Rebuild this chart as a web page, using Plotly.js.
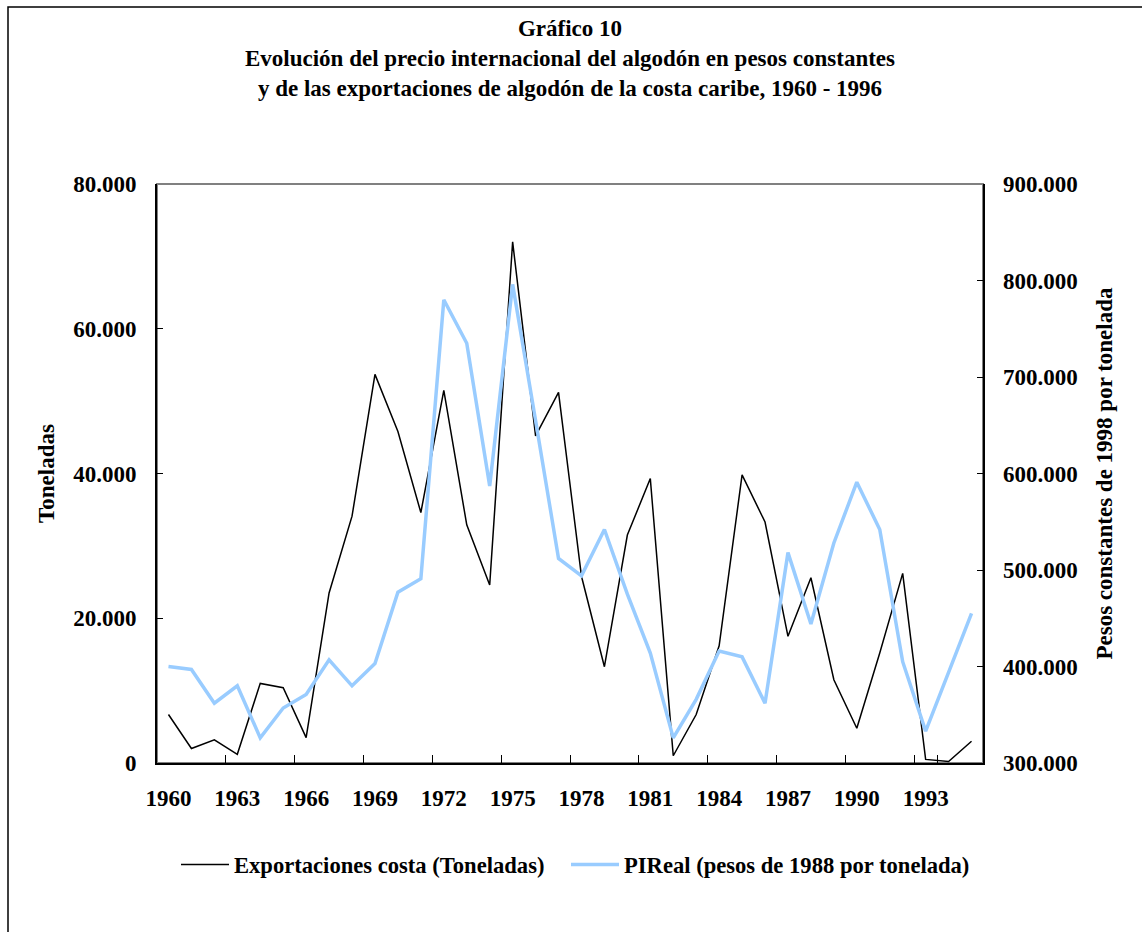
<!DOCTYPE html>
<html>
<head>
<meta charset="utf-8">
<script src="https://cdn.plot.ly/plotly-3.0.1.min.js"></script>
<style>html,body{margin:0;padding:0;background:#fff;}#chart{width:1142px;height:932px;}</style>
</head>
<body>
<div id="chart"></div>
<script>
const years = ["1960","1961","1962","1963","1964","1965","1966","1967","1968","1969","1970","1971","1972","1973","1974","1975","1976","1977","1978","1979","1980","1981","1982","1983","1984","1985","1986","1987","1988","1989","1990","1991","1992","1993","1994","1995"];
const exportaciones = [6700,2000,3200,1200,11000,10400,3500,23500,34100,53700,45800,34600,51500,32900,24600,72000,45200,51200,25800,13300,31500,39300,1000,6700,16200,39800,33300,17500,25600,11500,4800,15200,26200,500,200,3000];
const pireal = [400000,397000,362000,380000,326000,357000,371000,407000,380000,403000,477000,491000,780000,735000,587000,796000,655000,512000,494000,542000,475000,414000,326000,366000,416000,410000,362000,518000,444000,528000,591000,542000,405000,333000,394000,455000];
const tickLabelsX = ["1960","1963","1966","1969","1972","1975","1978","1981","1984","1987","1990","1993"];

const FONT = "'Liberation Serif', 'Times New Roman', serif";
const BOLD = (size) => ({family: FONT, size: size, color: '#000', weight: 'bold'});

const traces = [
  {x: years, y: exportaciones, type: 'scatter', mode: 'lines', name: 'Exportaciones costa (Toneladas)',
   line: {color: '#000000', width: 1.5}, yaxis: 'y', legend: 'legend'},
  {x: years, y: pireal, type: 'scatter', mode: 'lines', name: 'PIReal (pesos de 1988 por tonelada)',
   line: {color: '#99CCFF', width: 3.5}, yaxis: 'y2', legend: 'legend2'}
];

const legendBase = {
  orientation: 'h', xanchor: 'left', y: -0.176, yanchor: 'middle',
  font: BOLD(22.6), itemwidth: 48, bgcolor: 'rgba(0,0,0,0)'
};

const layout = {
  width: 1142, height: 932,
  separators: ',.',
  paper_bgcolor: '#ffffff', plot_bgcolor: '#ffffff',
  font: {family: FONT, color: '#000', size: 22},
  margin: {l: 157, r: 159, t: 184, b: 169},
  title: {
    text: 'Gráfico 10<br>Evolución del precio internacional del algodón en pesos constantes<br>y de las exportaciones de algodón de la costa caribe, 1960 - 1996',
    font: BOLD(23),
    x: 0.5, xanchor: 'center', xref: 'paper',
    y: 1 - 36/932, yanchor: 'top'
  },
  xaxis: {
    type: 'category',
    range: [-0.5, 35.5],
    tickmode: 'array',
    tickvals: tickLabelsX,
    ticktext: tickLabelsX,
    tickson: 'boundaries',
    tickangle: 0,
    ticks: 'inside', ticklen: 8, tickcolor: '#000', tickwidth: 1,
    showline: true, linecolor: '#000', linewidth: 2,
    showgrid: false, zeroline: false,
    tickfont: BOLD(23),
    ticklabelstandoff: 13
  },
  yaxis: {
    range: [0, 80000],
    tickmode: 'linear', tick0: 0, dtick: 20000,
    tickformat: ',d',
    ticks: 'inside', ticklen: 6, tickcolor: '#000',
    showline: true, linecolor: '#000', linewidth: 2,
    showgrid: false, zeroline: false,
    tickfont: BOLD(23),
    ticklabelstandoff: 14,
    title: {text: 'Toneladas', font: BOLD(23), standoff: 12}
  },
  yaxis2: {
    overlaying: 'y', side: 'right',
    range: [300000, 900000],
    tickmode: 'linear', tick0: 300000, dtick: 100000,
    tickformat: ',d',
    ticks: 'inside', ticklen: 6, tickcolor: '#000',
    showline: true, linecolor: '#000', linewidth: 1.5,
    showgrid: false, zeroline: false,
    tickfont: BOLD(23),
    ticklabelstandoff: 14,
    title: {text: 'Pesos constantes de 1998 por tonelada', font: BOLD(23), standoff: 19}
  },
  showlegend: true,
  legend: Object.assign({}, legendBase, {x: (182-157-6)/826}),
  legend2: Object.assign({}, legendBase, {x: (572-157-6)/826}),
  shapes: [
    {type: 'rect', xref: 'paper', yref: 'paper', x0: 0, x1: 1, y0: 0, y1: 1,
     line: {color: '#808080', width: 2}, layer: 'below'},
    {type: 'rect', xref: 'paper', yref: 'paper', x0: (8-157)/826, x1: (1150-157)/826, y0: (763-940)/579, y1: (763-7)/579,
     line: {color: '#000', width: 1.5}, layer: 'below'}
  ]
};

Plotly.newPlot('chart', traces, layout, {displayModeBar: false, staticPlot: true});
</script>
</body>
</html>
